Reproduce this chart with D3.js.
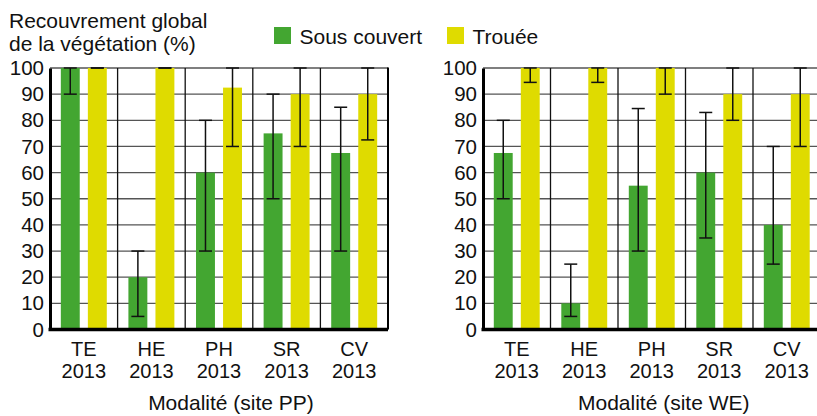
<!DOCTYPE html>
<html>
<head>
<meta charset="utf-8">
<script src="https://cdn.jsdelivr.net/npm/d3@7"></script>
<style>
  body { margin: 0; background: #fff; }
  svg { display: block; font-family: "Liberation Sans", Arial, sans-serif; }
</style>
</head>
<body>
<svg id="chart" width="817" height="416"></svg>
<script>
const categories = ["TE", "HE", "PH", "SR", "CV"]
const yearLabel = "2013"
const seriesNames = ["Sous couvert", "Trouée"]
const yTicks = [0, 10, 20, 30, 40, 50, 60, 70, 80, 90, 100]

// site PP
const ppSous = [100, 20, 60, 75, 67.5]
const ppSousLow = [90, 5, 30, 50, 30]
const ppSousHigh = [100, 30, 80, 90, 85]
const ppTrouee = [100, 100, 92.5, 90, 90]
const ppTroueeLow = [100, 100, 70, 70, 72.5]
const ppTroueeHigh = [100, 100, 100, 100, 100]

// site WE
const weSous = [67.5, 10, 55, 60, 40]
const weSousLow = [50, 5, 30, 35, 25]
const weSousHigh = [80, 25, 84.5, 83, 70]
const weTrouee = [100, 100, 100, 90, 90]
const weTroueeLow = [94.5, 94.5, 90, 80, 70]
const weTroueeHigh = [100, 100, 100, 100, 100]

const colors = { "Sous couvert": "#43a631", "Trouée": "#dfdb00" }

const svg = d3.select("#chart")

const makePanel = function(left, right, title, sous, sousLow, sousHigh, tr, trLow, trHigh) {
  const top = 68, bottom = 329.5

  const rows = categories.map((c, i) => ({
    cat: c,
    bars: [
      { s: seriesNames[0], v: sous[i], lo: sousLow[i], hi: sousHigh[i] },
      { s: seriesNames[1], v: tr[i], lo: trLow[i], hi: trHigh[i] }
    ]
  }))

  const x = d3.scaleBand().domain(categories).range([left, right])
  const xs = d3.scaleBand().domain(seriesNames).range([0, x.bandwidth()])
                .paddingInner(0.3).paddingOuter(0.4)
  const y = d3.scaleLinear().domain([0, 100]).range([bottom, top])

  const g = svg.append("g")

  // horizontal grid
  g.append("g").selectAll("line").data(yTicks).enter().append("line")
      .attr("x1", left).attr("x2", right)
      .attr("y1", d => y(d)).attr("y2", d => y(d))
      .attr("stroke", "#555").attr("stroke-width", 1.3)

  // vertical separators
  g.append("g").selectAll("line").data(categories.slice(1)).enter().append("line")
      .attr("x1", d => x(d)).attr("x2", d => x(d))
      .attr("y1", top).attr("y2", bottom)
      .attr("stroke", "#111").attr("stroke-width", 1.3)

  // bars
  const cat = g.append("g").selectAll("g").data(rows).enter().append("g")
      .attr("transform", d => "translate(" + x(d.cat) + ",0)")

  cat.selectAll("rect").data(d => d.bars).enter().append("rect")
      .attr("x", d => xs(d.s))
      .attr("y", d => y(d.v))
      .attr("width", xs.bandwidth())
      .attr("height", d => y(0) - y(d.v))
      .attr("fill", d => colors[d.s])

  // error bars
  const err = cat.selectAll("g.err").data(d => d.bars).enter().append("g")
      .attr("class", "err")
      .attr("transform", d => "translate(" + (xs(d.s) + xs.bandwidth() / 2) + ",0)")
      .attr("stroke", "#111").attr("stroke-width", 1.5)
  err.append("line").attr("x1", 0).attr("x2", 0)
      .attr("y1", d => y(d.lo)).attr("y2", d => y(d.hi))
  err.append("line").attr("x1", -6.5).attr("x2", 6.5)
      .attr("y1", d => y(d.lo)).attr("y2", d => y(d.lo))
  err.append("line").attr("x1", -6.5).attr("x2", 6.5)
      .attr("y1", d => y(d.hi)).attr("y2", d => y(d.hi))

  // right border
  g.append("line").attr("x1", right).attr("x2", right)
      .attr("y1", top - 0.6).attr("y2", bottom)
      .attr("stroke", "#000").attr("stroke-width", 2)

  // y axis
  const yAxis = d3.axisLeft(y).tickValues(yTicks).tickSize(0).tickPadding(6)
  const ya = g.append("g").attr("transform", "translate(" + left + ",0)").call(yAxis)
  ya.select(".domain").attr("stroke", "#000").attr("stroke-width", 3)
  ya.selectAll("text").attr("font-size", 20.5).attr("fill", "#111")
      .attr("font-family", "'Liberation Sans', Arial, sans-serif")

  // x axis
  const xAxis = d3.axisBottom(x).tickSize(0).tickFormat("")
  const xa = g.append("g").attr("transform", "translate(0," + bottom + ")").call(xAxis)
  xa.select(".domain").attr("stroke", "#000").attr("stroke-width", 3.5)
      .attr("d", "M" + (left - 1.5) + ",0H" + right)

  const lab = g.append("g").selectAll("text").data(categories).enter().append("text")
      .attr("text-anchor", "middle")
      .attr("font-size", 20).attr("fill", "#111")
  lab.append("tspan").attr("x", d => x(d) + x.bandwidth() / 2).attr("y", 355.5).text(d => d)
  lab.append("tspan").attr("x", d => x(d) + x.bandwidth() / 2).attr("y", 378).text(yearLabel)

  g.append("text").attr("x", (left + right) / 2 + 12).attr("y", 410)
      .attr("text-anchor", "middle").attr("font-size", 21).attr("fill", "#111")
      .text(title)
}

makePanel(50, 388, "Modalité (site PP)", ppSous, ppSousLow, ppSousHigh, ppTrouee, ppTroueeLow, ppTroueeHigh)
makePanel(483, 820.5, "Modalité (site WE)", weSous, weSousLow, weSousHigh, weTrouee, weTroueeLow, weTroueeHigh)

// y title
const yt = svg.append("text").attr("font-size", 21).attr("fill", "#111")
yt.append("tspan").attr("x", 9).attr("y", 28).text("Recouvrement global")
yt.append("tspan").attr("x", 9).attr("y", 51).text("de la végétation (%)")

// legend
const legX = [274, 447]
const leg = svg.append("g").selectAll("g").data(seriesNames).enter().append("g")
    .attr("transform", (d, i) => "translate(" + legX[i] + ",27)")
leg.append("rect").attr("width", 17).attr("height", 17).attr("fill", d => colors[d])
leg.append("text").attr("x", 25.5).attr("y", 17).attr("font-size", 21).attr("fill", "#111").text(d => d)
</script>
</body>
</html>
